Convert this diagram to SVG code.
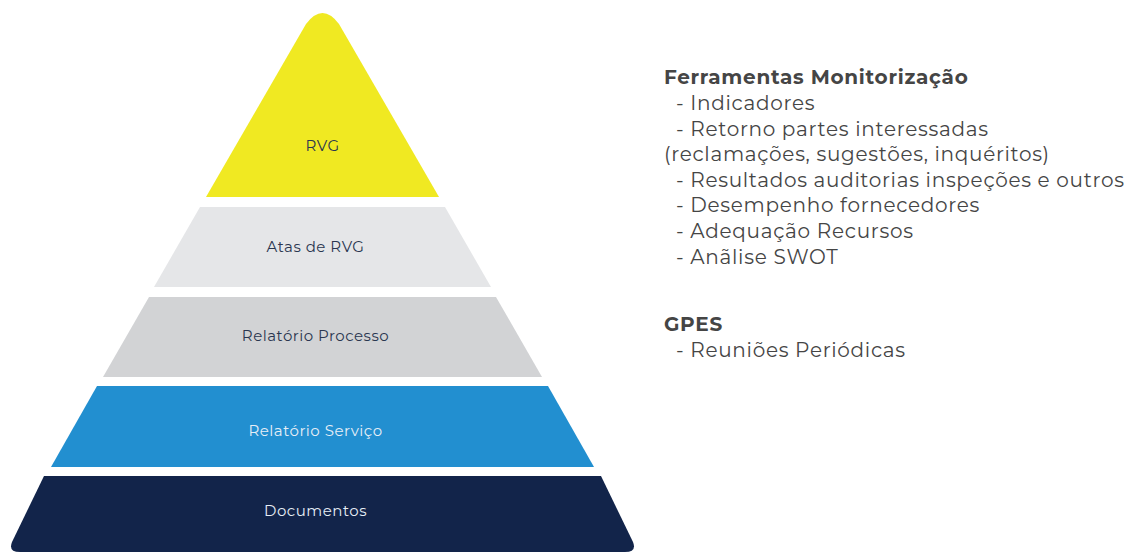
<svg xmlns="http://www.w3.org/2000/svg" width="1126" height="552" viewBox="0 0 1126 552">
<style>
.lbl{font-family:Montserrat,"Open Sans","Noto Sans",sans-serif;font-size:15px;text-anchor:middle;letter-spacing:0.5px;}
.dark{fill:#2a3650;}
.light{fill:#e6eef6;}
.side{font-family:Montserrat,"Open Sans","Noto Sans",sans-serif;font-size:20px;fill:#454545;letter-spacing:0.7px;}
.bold{font-weight:bold;}
</style>
<rect width="1126" height="552" fill="#ffffff"/>
<g id="level-rvg">
<path d="M206 197 L306 24 Q322.5 2 339 24 L439 197 Z" fill="#f0e922"/>
<text class="lbl dark" x="322.5" y="151">RVG</text>
</g>
<g id="level-atas">
<path d="M200 207 L445 207 L491 287 L154 287 Z" fill="#e5e6e8"/>
<text class="lbl dark" x="315.5" y="252">Atas de RVG</text>
</g>
<g id="level-processo">
<path d="M149 297 L496 297 L542 377 L103 377 Z" fill="#d2d3d5"/>
<text class="lbl dark" x="315.5" y="341">Relatório Processo</text>
</g>
<g id="level-servico">
<path d="M97 386 L548 386 L594 467 L51 467 Z" fill="#228fd0"/>
<text class="lbl light" x="315.5" y="436">Relatório Serviço</text>
</g>
<g id="level-documentos">
<path d="M44 476 L601 476 L633 542 Q637 552 625 552 L20 552 Q8 552 12 542 Z" fill="#12244a"/>
<text class="lbl light" x="315.5" y="516">Documentos</text>
</g>
<g id="notes">
<text class="side bold" x="664" y="84">Ferramentas Monitorização</text>
<text class="side" x="676" y="110">- Indicadores</text>
<text class="side" x="676" y="135.5">- Retorno partes interessadas</text>
<text class="side" x="664" y="161">(reclamações, sugestões, inquéritos)</text>
<text class="side" x="676" y="186.5">- Resultados auditorias inspeções e outros</text>
<text class="side" x="676" y="212">- Desempenho fornecedores</text>
<text class="side" x="676" y="238">- Adequação Recursos</text>
<text class="side" x="676" y="263.5">- Anãlise SWOT</text>
<text class="side bold" x="664" y="331">GPES</text>
<text class="side" x="676" y="357">- Reuniões Periódicas</text>
</g>
<g id="connectors"/>
</svg>
